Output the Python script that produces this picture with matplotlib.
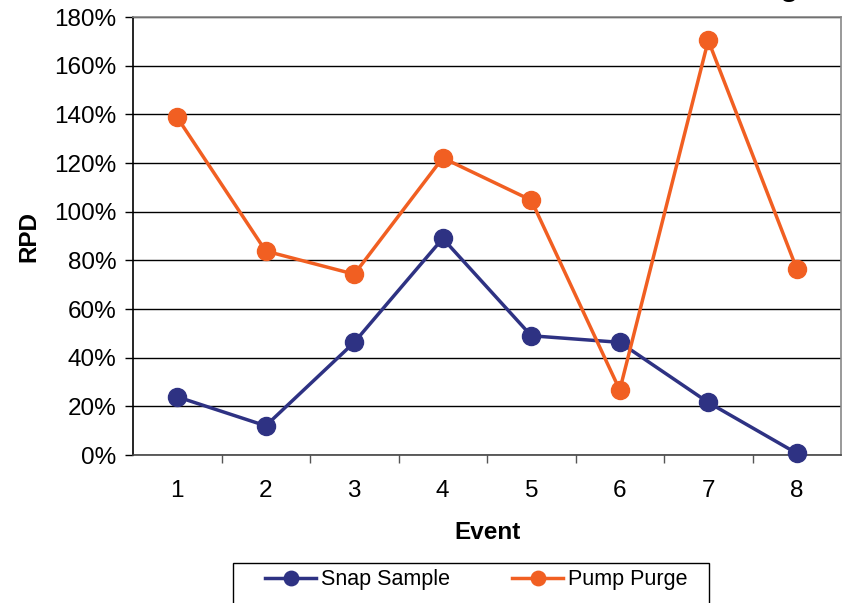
import matplotlib.pyplot as plt
import numpy as np
from matplotlib.ticker import FuncFormatter, FixedLocator
from matplotlib.patches import Rectangle

plt.rcParams['font.family'] = ['Liberation Sans', 'DejaVu Sans']

events = [1, 2, 3, 4, 5, 6, 7, 8]
snap_sample = [23.9, 12.0, 46.3, 89.0, 49.0, 46.3, 21.6, 0.7]
pump_purge = [138.7, 83.8, 74.3, 122.1, 104.7, 26.7, 170.4, 76.5]
y_ticks = [0, 20, 40, 60, 80, 100, 120, 140, 160, 180]

navy = '#2E3283'
orange = '#F15F22'

W, H = 843, 603
fig = plt.figure(figsize=(W / 100, H / 100), dpi=100)
ax = fig.add_axes([133 / W, 1 - 455 / H, (841 - 133) / W, (455 - 17) / H])

#gridlines first so lines sit on top
ax.set_axisbelow(True)
ax.yaxis.grid(True, color='black', linewidth=1.0)

ax.plot(events, snap_sample, color=navy, linewidth=2.5, marker='o', markersize=13,
        label='Snap Sample', clip_on=False, zorder=3)
ax.plot(events, pump_purge, color=orange, linewidth=2.5, marker='o', markersize=13,
        label='Pump Purge', clip_on=False, zorder=3)

ax.set_xlim(0.5, 8.5)
ax.set_ylim(0, 180)
ax.set_yticks(y_ticks)
ax.yaxis.set_major_formatter(FuncFormatter(lambda v, p: f"{v:.0f}%"))

ax.set_xticks(events)
ax.xaxis.set_minor_locator(FixedLocator(np.arange(1.5, 8.5, 1.0)))
ax.tick_params(axis='x', which='major', length=0, pad=18, labelsize=17.5)
ax.tick_params(axis='x', which='minor', length=6, width=1, color='#555555', direction='out')
ax.tick_params(axis='y', which='major', length=6, width=1, color='black', pad=6, labelsize=17.5)

for side in ['top', 'right']:
    ax.spines[side].set_color('#888888')
    ax.spines[side].set_linewidth(1.2)
ax.spines['left'].set_color('black')
ax.spines['left'].set_linewidth(1.2)
ax.spines['bottom'].set_color('#444444')
ax.spines['bottom'].set_linewidth(1.2)

ax.set_ylabel('RPD', fontsize=17.5, fontweight='bold')
ax.yaxis.set_label_coords(-0.131, 0.5)
ax.set_xlabel('Event', fontsize=17.5, fontweight='bold')
ax.xaxis.set_label_coords(0.5, -0.178)
ax.xaxis.label.set_va('center')

#chart title is cropped off the top, only the tail of the "g" shows
fig.text(789 / W, 1 + 5 / H, 'g', fontsize=22, fontweight='bold', ha='center', va='baseline')

#legend box runs off the bottom of the picture
fig.patches.append(Rectangle((233 / W, -0.05), (709 - 233) / W, 0.05 + (603 - 563) / H,
                             transform=fig.transFigure, fill=False, edgecolor='black',
                             linewidth=1.0))
leg = fig.legend(loc='center left', bbox_to_anchor=(265 / W, 1 - 580 / H),
                 ncol=2, fontsize=15.5, frameon=False, borderpad=0, borderaxespad=0,
                 handlelength=2.37, handletextpad=0.23, columnspacing=2.9, markerscale=0.8)

fig.savefig('out.png', dpi=100)
